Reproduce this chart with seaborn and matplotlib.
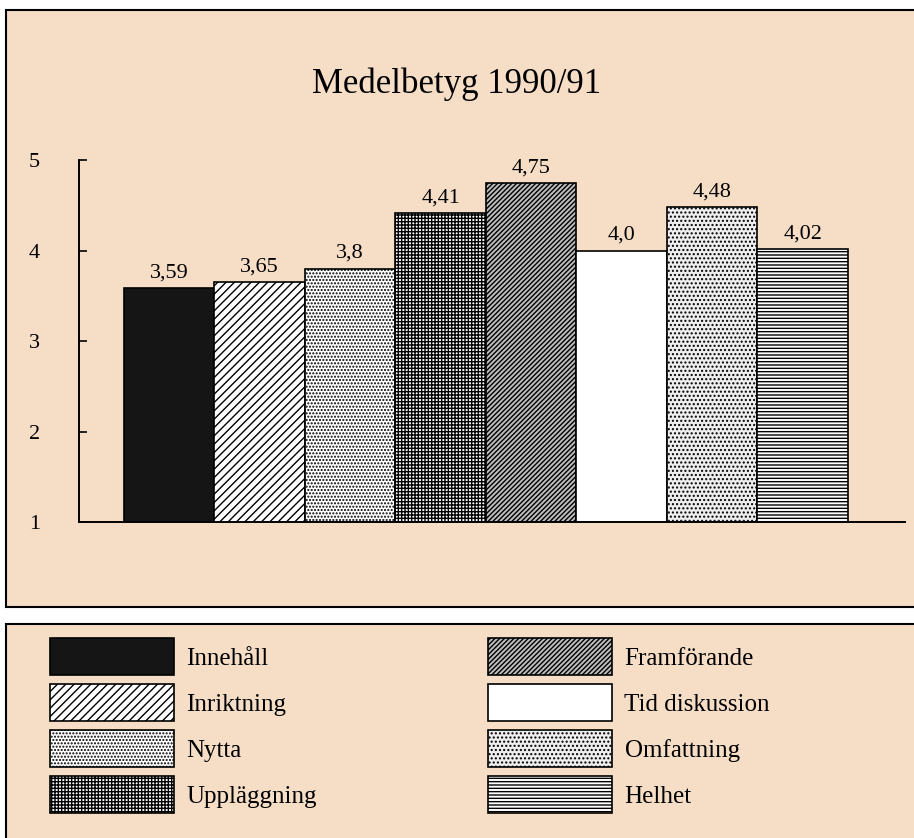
import seaborn as sns
import matplotlib.pyplot as plt
from matplotlib.patches import Patch, Rectangle

categories = ["Innehåll", "Inriktning", "Nytta", "Uppläggning",
              "Framförande", "Tid diskussion", "Omfattning", "Helhet"]
values = [3.59, 3.65, 3.8, 4.41, 4.75, 4.0, 4.48, 4.02]
value_labels = ["3,59", "3,65", "3,8", "4,41", "4,75", "4,0", "4,48", "4,02"]
y_ticks = [1, 2, 3, 4, 5]

fill_colors = ["#151515", "white", "white", "white",
               "#bdbdbd", "white", "#eeeeee", "white"]
hatches = [None, "////", ".....", "+++++", "///////", None, "....", "-----"]
hatch_colors = ["black", "black", "black", "black",
                "black", "black", "#b0b0b0", "black"]

peach = "#f5ddc6"

sns.set_style("ticks")
plt.rcParams["font.family"] = ["Liberation Serif", "DejaVu Serif"]
plt.rcParams["hatch.linewidth"] = 1.0
for key in ["text.color", "axes.labelcolor", "xtick.color", "ytick.color",
            "axes.edgecolor"]:
    plt.rcParams[key] = "black"

fig = plt.figure(figsize=(9.14, 8.38), dpi=100)
fig.patch.set_facecolor("white")

# two framed panels
fig.add_artist(Rectangle((6 / 914, 1 - 607 / 838), 1.0, 597 / 838,
                         transform=fig.transFigure, facecolor=peach,
                         edgecolor="black", lw=1.5, zorder=-5))
fig.add_artist(Rectangle((6 / 914, -0.01), 1.0, 214 / 838 + 0.01,
                         transform=fig.transFigure, facecolor=peach,
                         edgecolor="black", lw=1.5, zorder=-5))

ax = fig.add_axes([79 / 914, 1 - 522 / 838, (905 - 79) / 914, (522 - 160) / 838])
ax.patch.set_alpha(0)

sns.barplot(x=categories, y=values, hue=categories, palette=fill_colors,
            saturation=1, width=1, edgecolor="black", linewidth=1.2,
            legend=False, ax=ax)

for bar, lab, h, hc in zip(ax.patches, value_labels, hatches, hatch_colors):
    bar.set_hatch(h)
    if hasattr(bar, "set_hatchcolor"):
        bar.set_hatchcolor(hc)
    ax.annotate(lab, (bar.get_x() + bar.get_width() / 2, bar.get_height()),
                xytext=(0, 4), textcoords="offset points",
                ha="center", va="bottom", fontsize=16)

ax.set_ylim(1, 5)
ax.set_xlim(-0.997, 8.13)
ax.set_yticks(y_ticks)
ax.set_xticks([])
ax.set_xlabel("")
ax.set_ylabel("")
ax.tick_params(axis="y", direction="in", length=6, width=1.2, pad=28, labelsize=16)
sns.despine(ax=ax)
ax.spines["left"].set_linewidth(1.4)
ax.spines["bottom"].set_linewidth(1.4)

fig.text(0.5, 1 - 84 / 838, "Medelbetyg 1990/91", ha="center", va="center",
         fontsize=25)

handles = []
for c, h, hc in zip(fill_colors, hatches, hatch_colors):
    p = Patch(facecolor=c, edgecolor="black", hatch=h, lw=1.2)
    if hasattr(p, "set_hatchcolor"):
        p.set_hatchcolor(hc)
    handles.append(p)

leg_kw = dict(loc="upper left", frameon=False, fontsize=18, borderpad=0,
              borderaxespad=0, handlelength=4.96, handleheight=1.9,
              handletextpad=0.5, labelspacing=0.36)
fig.legend(handles[:4], categories[:4],
           bbox_to_anchor=(50 / 914, 1 - 638 / 838), **leg_kw)
fig.legend(handles[4:], categories[4:],
           bbox_to_anchor=(488 / 914, 1 - 638 / 838), **leg_kw)

fig.savefig("out.png", dpi=100)
